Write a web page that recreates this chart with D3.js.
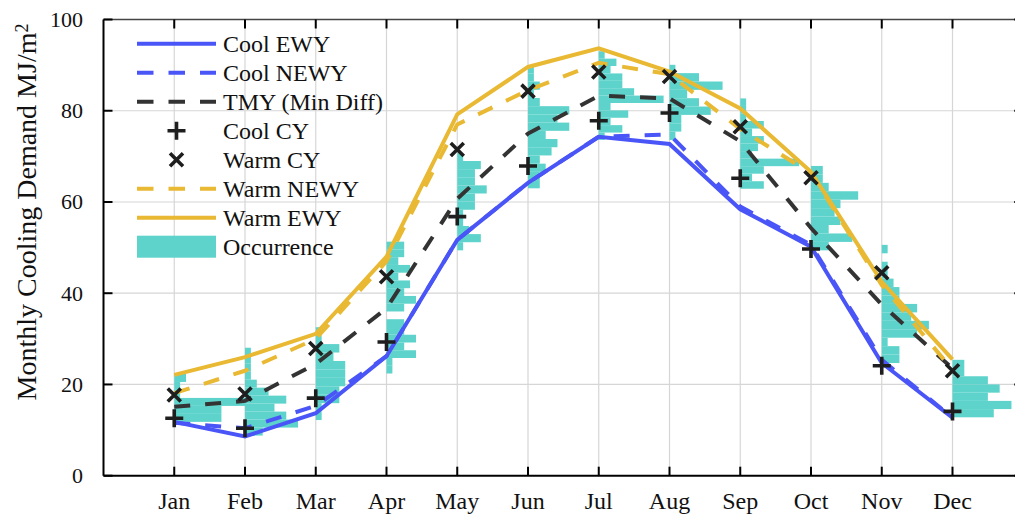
<!DOCTYPE html>
<html>
<head>
<meta charset="utf-8">
<script src="https://cdn.jsdelivr.net/npm/d3@7"></script>
<style>
  body { margin: 0; background: #fff; }
  svg { display: block; }
  text { font-family: "Liberation Serif", "Times New Roman", serif; fill: #111; }
</style>
</head>
<body>
<svg id="chart" width="1015" height="515"></svg>
<script>
// Monthly cooling demand (MJ/m²) for each weather-file variant
const months = ["Jan", "Feb", "Mar", "Apr", "May", "Jun", "Jul", "Aug", "Sep", "Oct", "Nov", "Dec"];
const yTicks = [0, 20, 40, 60, 80, 100];

const coolEWY   = [11.8, 8.6, 13.7, 26.2, 51.7, 64.2, 74.3, 72.7, 58.4, 50.2, 24.7, 12.7];
const coolNEWY  = [11.6, 10.4, 15.3, 26.2, 51.7, 64.2, 74.3, 74.8, 59.0, 50.6, 25.4, 12.7];
const tmyMinDiff = [15.1, 16.4, 24.5, 36.7, 60.7, 75.0, 83.3, 82.7, 73.3, 54.3, 37.5, 23.5];
const coolCY    = [12.6, 10.4, 17.0, 29.3, 56.8, 67.9, 77.8, 79.5, 65.2, 49.7, 24.1, 14.1];
const warmCY    = [17.7, 17.9, 27.9, 43.6, 71.5, 84.3, 88.5, 87.5, 76.5, 65.3, 44.5, 23.0];
const warmNEWY  = [18.1, 23.0, 30.0, 47.0, 77.0, 84.5, 90.5, 88.0, 76.0, 66.3, 41.8, 23.2];
const warmEWY   = [22.1, 26.0, 31.1, 48.0, 79.2, 89.6, 93.7, 88.6, 80.5, 66.6, 42.5, 25.5];

// Occurrence histograms of the individual years: lowest bin edge, bin width, counts (bottom to top)
const occLow   = [11.8, 8.8, 12.2, 22.4, 49.4, 63.0, 73.6, 73.6, 62.9, 49.4, 24.7, 12.8];
const occBin   = [1.75, 1.75, 1.85, 1.7, 1.78, 1.8, 1.62, 1.83, 1.65, 1.85, 1.85, 1.8];
const occCounts = [
  [8, 8, 12, 1, 1, 2],
  [3, 9, 7, 5, 7, 4, 2, 1, 1, 1, 1],
  [1, 1, 4, 4, 5, 5, 5, 3, 4, 1, 1],
  [1, 1, 5, 3, 5, 3, 3, 0, 3, 5, 3, 4, 2, 4, 2, 3, 3],
  [1, 4, 2, 1, 1, 3, 3, 5, 3, 3, 4, 1],
  [2, 2, 3, 2, 4, 5, 3, 7, 5, 7, 2, 1, 2, 1, 1],
  [1, 4, 2, 5, 2, 11, 6, 4, 4, 2, 3, 1],
  [1, 2, 2, 7, 5, 3, 9, 5, 1],
  [4, 2, 4, 10, 2, 3, 4, 2, 4, 1, 1, 1],
  [3, 7, 3, 5, 4, 5, 8, 3, 2, 2],
  [3, 3, 1, 6, 8, 5, 6, 3, 3, 2, 1, 1, 0, 1],
  [7, 10, 6, 8, 6, 2, 2]
];
// one year of occurrence spans this fraction of the month spacing
const countUnit = 1 / 12;

const svg = d3.select("#chart");

const x = d3.scaleLinear().domain([0, 13]).range([103.5, 1023.25]);
const y = d3.scaleLinear().domain([0, 100]).range([475.7, 19.5]);
const mx = i => x(i + 1);

const colBlue = "#4a55f7";
const colGold = "#e9b933";
const colDark = "#333333";
const colTeal = "#5dd3cb";
const colMark = "#1e1e1e";

// grid
const grid = svg.append("g");
grid.selectAll("line.v").data(months).join("line")
  .attr("x1", (d, i) => mx(i)).attr("x2", (d, i) => mx(i))
  .attr("y1", y(100)).attr("y2", y(0))
  .attr("stroke", "#d6d6d6").attr("stroke-width", 1.2);
grid.selectAll("line.h").data(yTicks.filter(t => t > 0 && t < 100)).join("line")
  .attr("x1", x(0)).attr("x2", x(13))
  .attr("y1", d => y(d)).attr("y2", d => y(d))
  .attr("stroke", "#d6d6d6").attr("stroke-width", 1.2);

// occurrence histograms
const bars = [];
occCounts.forEach((counts, m) => {
  counts.forEach((c, k) => {
    if (c > 0) bars.push({ m, lo: occLow[m] + k * occBin[m], hi: occLow[m] + (k + 1) * occBin[m], c });
  });
});
svg.append("g").selectAll("rect").data(bars).join("rect")
  .attr("x", d => mx(d.m))
  .attr("width", d => x(d.m + 1 + d.c * countUnit) - mx(d.m))
  .attr("y", d => y(d.hi))
  .attr("height", d => y(d.lo) - y(d.hi))
  .attr("fill", colTeal);

// lines
const line = d3.line().x((d, i) => mx(i)).y(d => y(d));
const series = [
  { data: coolEWY, color: colBlue, dash: null },
  { data: coolNEWY, color: colBlue, dash: "16,15" },
  { data: tmyMinDiff, color: colDark, dash: "16,15" },
  { data: warmNEWY, color: colGold, dash: "16,15" },
  { data: warmEWY, color: colGold, dash: null }
];
svg.append("g").selectAll("path").data(series).join("path")
  .attr("d", d => line(d.data))
  .attr("fill", "none")
  .attr("stroke", d => d.color)
  .attr("stroke-width", 4)
  .attr("stroke-dasharray", d => d.dash);

// markers
const plus = (g, cx, cy, r) => g.append("path")
  .attr("d", `M${cx - r},${cy}H${cx + r}M${cx},${cy - r}V${cy + r}`)
  .attr("stroke", colMark).attr("stroke-width", 3.6).attr("fill", "none");
const cross = (g, cx, cy, r) => g.append("path")
  .attr("d", `M${cx - r},${cy - r}L${cx + r},${cy + r}M${cx - r},${cy + r}L${cx + r},${cy - r}`)
  .attr("stroke", colMark).attr("stroke-width", 3.6).attr("fill", "none");
const mk = svg.append("g");
coolCY.forEach((v, i) => plus(mk, mx(i), y(v), 9));
warmCY.forEach((v, i) => cross(mk, mx(i), y(v), 6.5));

// axes frame
const frame = svg.append("g");
frame.append("line").attr("x1", x(0)).attr("x2", 1015).attr("y1", y(100)).attr("y2", y(100))
  .attr("stroke", "#444").attr("stroke-width", 1.6);
frame.append("line").attr("x1", x(0)).attr("x2", 1015).attr("y1", y(0)).attr("y2", y(0))
  .attr("stroke", "#000").attr("stroke-width", 2);
frame.append("line").attr("x1", x(0)).attr("x2", x(0)).attr("y1", y(100)).attr("y2", y(0))
  .attr("stroke", "#000").attr("stroke-width", 2);

const tickLen = 9;
frame.selectAll("line.bt").data(months).join("line")
  .attr("x1", (d, i) => mx(i)).attr("x2", (d, i) => mx(i))
  .attr("y1", y(0)).attr("y2", y(0) - tickLen)
  .attr("stroke", "#000").attr("stroke-width", 2);
frame.selectAll("line.tt").data(months).join("line")
  .attr("x1", (d, i) => mx(i)).attr("x2", (d, i) => mx(i))
  .attr("y1", y(100)).attr("y2", y(100) + tickLen)
  .attr("stroke", "#000").attr("stroke-width", 2);
frame.selectAll("line.lt").data(yTicks).join("line")
  .attr("x1", x(0)).attr("x2", x(0) + tickLen)
  .attr("y1", d => y(d)).attr("y2", d => y(d))
  .attr("stroke", "#000").attr("stroke-width", 2);
frame.selectAll("line.rt").data(yTicks).join("line")
  .attr("x1", x(13) - tickLen).attr("x2", x(13))
  .attr("y1", d => y(d)).attr("y2", d => y(d))
  .attr("stroke", "#000").attr("stroke-width", 2);

// tick labels
svg.append("g").selectAll("text").data(yTicks).join("text")
  .attr("x", 83).attr("y", d => y(d))
  .attr("dy", "0.34em")
  .attr("text-anchor", "end")
  .attr("font-size", 22)
  .text(d => d);
svg.append("g").selectAll("text").data(months).join("text")
  .attr("x", (d, i) => mx(i)).attr("y", 509)
  .attr("text-anchor", "middle")
  .attr("font-size", 24)
  .text(d => d);

// y axis title
const yt = svg.append("text")
  .attr("transform", "translate(36,212) rotate(-90)")
  .attr("text-anchor", "middle")
  .attr("font-size", 28);
yt.append("tspan").text("Monthly Cooling Demand MJ/m");
yt.append("tspan").attr("dy", "-0.45em").attr("font-size", 18).text("2");

// legend
const legendItems = [
  { label: "Cool EWY", type: "line", color: colBlue },
  { label: "Cool NEWY", type: "dash", color: colBlue },
  { label: "TMY (Min Diff)", type: "dash", color: colDark },
  { label: "Cool CY", type: "plus" },
  { label: "Warm CY", type: "cross" },
  { label: "Warm NEWY", type: "dash", color: colGold },
  { label: "Warm EWY", type: "line", color: colGold },
  { label: "Occurrence", type: "patch", color: colTeal }
];
const lg = svg.append("g");
legendItems.forEach((it, i) => {
  const cy = 43.7 + i * 29;
  const g = lg.append("g");
  if (it.type === "line" || it.type === "dash") {
    g.append("line").attr("x1", 137).attr("x2", 216).attr("y1", cy).attr("y2", cy)
      .attr("stroke", it.color).attr("stroke-width", 4)
      .attr("stroke-dasharray", it.type === "dash" ? "16.5,15" : null);
  } else if (it.type === "plus") {
    plus(g, 176.5, cy, 9);
  } else if (it.type === "cross") {
    cross(g, 176.5, cy, 6.5);
  } else {
    g.append("rect").attr("x", 137).attr("width", 79).attr("y", cy - 11).attr("height", 22)
      .attr("fill", it.color);
  }
  g.append("text").attr("x", 223).attr("y", cy).attr("dy", "0.33em")
    .attr("font-size", 24).text(it.label);
});
</script>
</body>
</html>
